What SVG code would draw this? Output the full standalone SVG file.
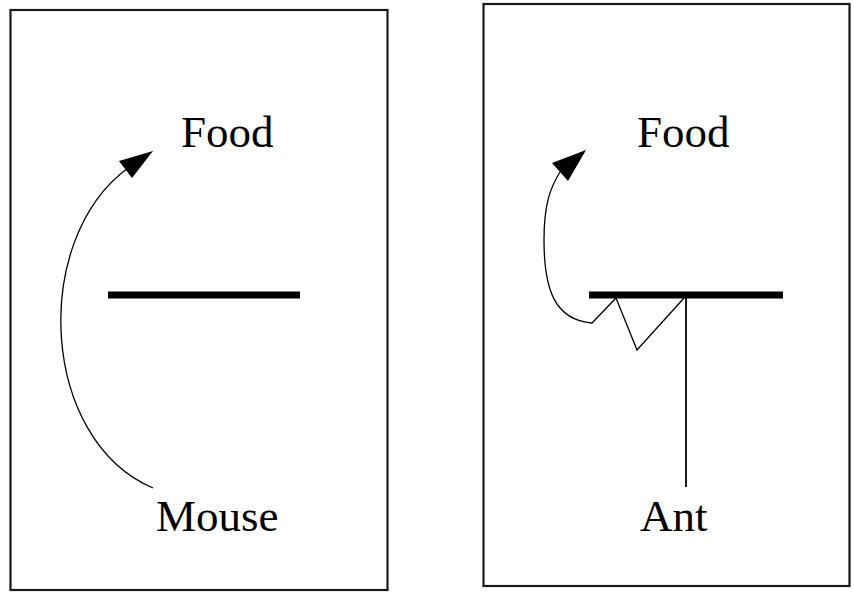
<svg xmlns="http://www.w3.org/2000/svg" width="854" height="592" viewBox="0 0 854 592">
<style>
.frame{fill:none;stroke:#1a1a1a;stroke-width:2.2}
.bar{stroke:#000;stroke-width:7;fill:none}
.thin{fill:none;stroke:#000;stroke-width:1.3}
.stem{fill:none;stroke:#000;stroke-width:1.8}
.head{fill:#000}
.lbl{font-family:"Liberation Serif","Times New Roman",serif;font-size:45px;fill:#000}
</style>
<rect width="854" height="592" fill="#fff"/>
<g id="mouse-panel">
<rect class="frame" x="10.5" y="10" width="377" height="580"/>
<g id="mouse-food"><text class="lbl" x="181" y="147">Food</text></g>
<g id="mouse-wall"><line class="bar" x1="108" y1="295" x2="300" y2="295"/></g>
<g id="mouse"><text class="lbl" x="156" y="531" font-size="46">Mouse</text></g>
</g>
<g id="ant-panel">
<rect class="frame" x="483.5" y="4" width="366" height="582"/>
<g id="ant-food"><text class="lbl" x="637" y="147">Food</text></g>
<g id="ant-wall"><line class="bar" x1="589" y1="295" x2="783" y2="295"/></g>
<g id="ant"><text class="lbl" x="640" y="531">Ant</text></g>
</g>
<g id="connectors">
<path class="thin" d="M153,488 C40,440 30,240 128,168"/>
<polygon class="head" points="153,151 119,161 132,178"/>
<line class="stem" x1="686" y1="298" x2="686" y2="487"/>
<path class="thin" d="M684,298 L637,350 L616,298 L592,323 C555,320 544,290 544,240 C544,205 550,188 560,172"/>
<polygon class="head" points="586,150 552,163 568,181"/>
</g>
</svg>
